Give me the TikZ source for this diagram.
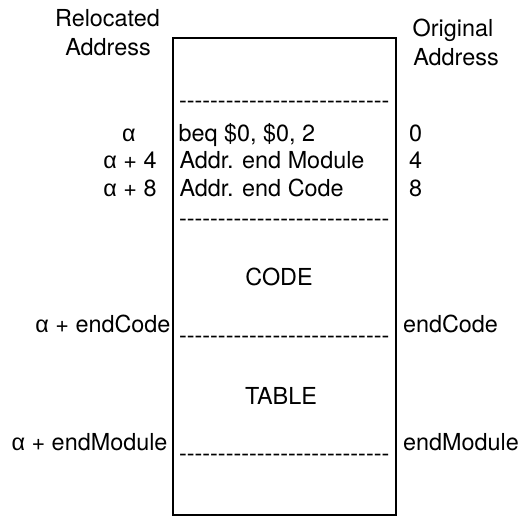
\documentclass[tikz,border=0pt]{standalone}
\usepackage{fontspec}
\setmainfont{TeX Gyre Heros}
\newfontfamily\alphafont{Liberation Sans}
\newcommand\al{{\alphafont α}}
\newcommand\hy{-\kern0pt}
\newcommand\dashrow{\hy\hy\hy\hy\hy\hy\hy\hy\hy\hy\hy\hy\hy\hy\hy\hy\hy\hy\hy\hy\hy\hy\hy\hy\hy\hy\hy}
\begin{document}
\begin{tikzpicture}[x=1pt,y=-1pt,
  every node/.style={inner sep=0pt,outer sep=0pt,font=\fontsize{23.4}{27}\selectfont},
  lbl/.style={anchor=base},
  lleft/.style={anchor=base west},
  lright/.style={anchor=base east},
  memory/.style={draw,line width=2pt,minimum width=223pt,minimum height=477pt}]
\useasboundingbox (0,0) rectangle (525,517);
\node[memory] (mem) at (284.5,276.5) {};
% headings
\node[lbl] (rel1) at (107.5,26) {Relocated};
\node[lbl] (rel2) at (108,55) {Address};
\node[lbl] (org1) at (453,36) {Original};
\node[lbl] (org2) at (456,65) {Address};
% dash lines (text)
\node[lleft] (d1) at (179,108.7) {\dashrow};
\node[lleft] (d2) at (179,226.4) {\dashrow};
\node[lleft] (d3) at (179,343.7) {\dashrow};
\node[lleft] (d4) at (179,461.4) {\dashrow};
% contents
\node[lleft] (r0) at (178.5,141.7) {beq \$0, \$0, 2};
\node[lleft] (r4) at (179.5,168.3) {Addr. end Module};
\node[lleft] (r8) at (179.5,196) {Addr. end Code};
\node[lbl] (code) at (279,285.7) {CODE};
\node[lbl] (table) at (281,404) {TABLE};
% relocated addresses
\node[lbl] (a0) at (129,141.7) {\al};
\node[lbl] (a4) at (130,168.3) {\al{} + 4};
\node[lbl] (a8) at (130,196) {\al{} + 8};
\node[lright] (aec) at (170.5,332) {\al{} + endCode};
\node[lright] (aem) at (167.5,450) {\al{} + endModule};
% original addresses
\node[lleft] (o0) at (409,141.7) {0};
\node[lleft] (o4) at (409,168.3) {4};
\node[lleft] (o8) at (409,196) {8};
\node[lleft] (oec) at (403,332) {endCode};
\node[lleft] (oem) at (403,450) {endModule};
\end{tikzpicture}
\end{document}
